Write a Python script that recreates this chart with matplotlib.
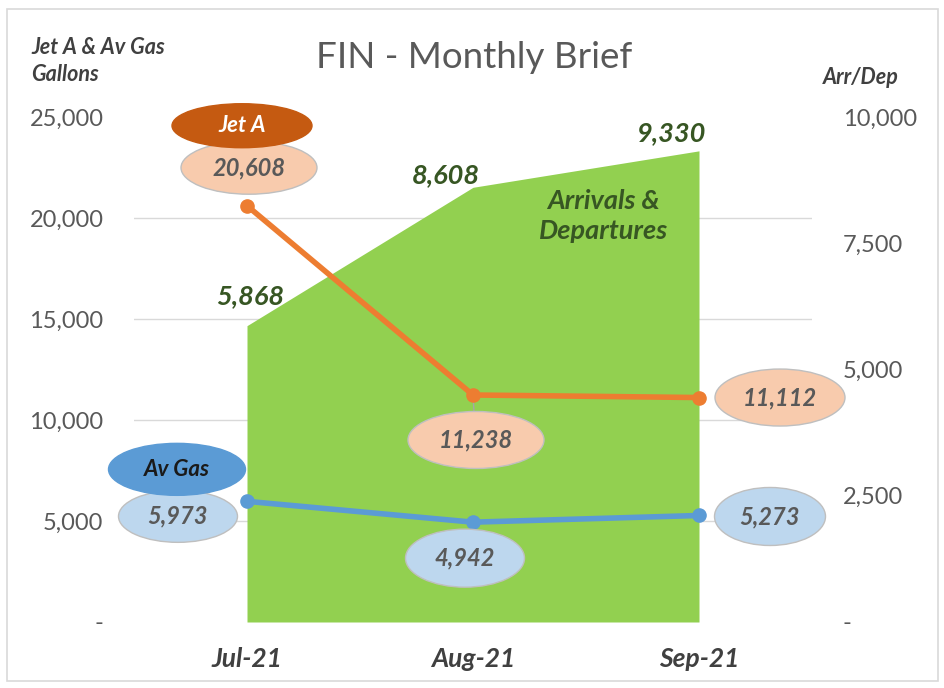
import matplotlib
matplotlib.use("Agg")
import matplotlib.pyplot as plt
from matplotlib.patches import Ellipse, Rectangle
from matplotlib.transforms import ScaledTranslation
from matplotlib.ticker import FuncFormatter, MultipleLocator

plt.rcParams['font.family'] = ['Lato', 'DejaVu Sans']

# ── data ──
months = ["Jul-21", "Aug-21", "Sep-21"]
jet_a = [20608, 11238, 11112]
av_gas = [5973, 4942, 5273]
arr_dep = [5868, 8608, 9330]

GREEN = '#92D050'; DKGREEN = '#375623'
ORANGE = '#ED7D31'; BLUE = '#5B9BD5'
GRAY = '#595959'; DARK = '#404040'

fig = plt.figure(figsize=(9.44, 6.88), dpi=100, facecolor='white')
ax2 = fig.add_axes([134/944, 66/688, 678/944, 505/688])   # right axis, area (bottom layer)
ax = fig.add_axes(ax2.get_position(), sharex=ax2)          # left axis, lines (top layer)
ax.patch.set_visible(False)

x = list(range(len(months)))

# ── area on right axis ──
ax2.fill_between(x, 0, arr_dep, color=GREEN, lw=0, zorder=2)
ax2.set_ylim(0, 10000)
ax2.set_xlim(-0.5, 2.5)
ax2.yaxis.set_major_locator(MultipleLocator(2500))
ax2.yaxis.set_minor_locator(MultipleLocator(2000))   # same heights as left 5,000 steps
ax2.grid(which='minor', axis='y', color='#D9D9D9', lw=1)
ax2.yaxis.tick_right()
fmt = FuncFormatter(lambda v, p: '-' if v == 0 else f"{v:,.0f}")
ax2.yaxis.set_major_formatter(fmt)
ax2.tick_params(axis='y', which='both', length=0, pad=22, labelsize=17, labelcolor=GRAY)
ax2.tick_params(axis='x', length=0, pad=18)
ax2.set_xticks(x)
ax2.set_xticklabels(months, fontsize=19, fontweight='bold', fontstyle='italic', color=DARK)
for s in ax2.spines.values():
    s.set_visible(False)

area_off = [(3, 30), (-27, 12), (-27, 18)]
for i, v in enumerate(arr_dep):
    tr = fig.dpi_scale_trans + ScaledTranslation(x[i], v, ax2.transData)
    ax2.text(area_off[i][0]/100, area_off[i][1]/100, f"{v:,}", transform=tr,
             ha='center', va='center', fontsize=19.5, fontweight='bold', fontstyle='italic',
             color=DKGREEN, zorder=4)
ax2.text(0.692, 0.804, "Arrivals &\nDepartures", transform=ax2.transAxes, ha='center', va='center',
         fontsize=19.5, fontweight='bold', fontstyle='italic', color=DKGREEN, linespacing=1.3, zorder=4)

# ── lines on left axis ──
ax.plot(x, jet_a, color=ORANGE, lw=4, marker='o', ms=9.5, zorder=3, solid_capstyle='round')
ax.plot(x, av_gas, color=BLUE, lw=4, marker='o', ms=9.5, zorder=3, solid_capstyle='round')
ax.set_ylim(0, 25000)
ax.set_xlim(-0.5, 2.5)
ax.yaxis.set_major_locator(MultipleLocator(5000))
ax.yaxis.set_major_formatter(fmt)
ax.yaxis.tick_left()
ax.tick_params(axis='y', length=0, pad=22, labelsize=17, labelcolor=GRAY)
ax.tick_params(axis='x', length=0, labelbottom=False)
for s in ax.spines.values():
    s.set_visible(False)


def bubble(axis, xi, yv, dx, dy, w, h, text, fc, tc=GRAY, ec='#BFBFBF', z=6, fs=17):
    tr = fig.dpi_scale_trans + ScaledTranslation(xi, yv, axis.transData)
    axis.add_patch(Ellipse((dx/100, dy/100), w/100, h/100, transform=tr, fc=fc, ec=ec,
                           lw=1, zorder=z, clip_on=False))
    axis.text(dx/100, dy/100, text, transform=tr, ha='center', va='center', fontsize=fs,
              fontweight='bold', fontstyle='italic', color=tc, zorder=z+0.5, clip_on=False)


# leader line for the Aug Jet A label
ax.annotate("", xy=(x[1], jet_a[1]), xytext=(1, -17), textcoords='offset pixels',
            arrowprops=dict(arrowstyle='-', color='#A6A6A6', lw=1, shrinkA=0, shrinkB=0), zorder=2.5)

jet_off = [(2, 38, 136, 53), (3, -45, 136, 57), (81, 0, 130, 57)]
gas_off = [(-69, -15, 119, 52), (-8, -36, 119, 58), (71, -1, 111, 58)]
for i in x:
    dx, dy, w, h = jet_off[i]
    bubble(ax, x[i], jet_a[i], dx, dy, w, h, f"{jet_a[i]:,}", '#F8CBAD')
    dx, dy, w, h = gas_off[i]
    bubble(ax, x[i], av_gas[i], dx, dy, w, h, f"{av_gas[i]:,}", '#BDD7EE')

# series name tags
bubble(ax, x[0], jet_a[0], -5, 80, 140, 44, "Jet A", '#C55A11', tc='white', ec='#C55A11', z=8, fs=16)
bubble(ax, x[0], av_gas[0], -70, 32, 137, 52, "Av Gas", BLUE, tc='#1a1a1a', ec=BLUE, z=8, fs=16)

# ── titles ──
fig.text(474/944, 1-58/688, "FIN - Monthly Brief", ha='center', va='center', fontsize=26.5, color=GRAY)
fig.text(31/944, 1-61/688, "Jet A & Av Gas\nGallons", ha='left', va='center', fontsize=15.5,
         fontweight='bold', fontstyle='italic', color=DARK, linespacing=1.35)
fig.text(823/944, 1-78/688, "Arr/Dep", ha='left', va='center', fontsize=15.5,
         fontweight='bold', fontstyle='italic', color=DARK)

fig.patches.append(Rectangle((7/944, 7/688), 931/944, 672/688, transform=fig.transFigure,
                             fill=False, ec='#D9D9D9', lw=1.2))

fig.savefig("out.png", dpi=100, facecolor='white')
